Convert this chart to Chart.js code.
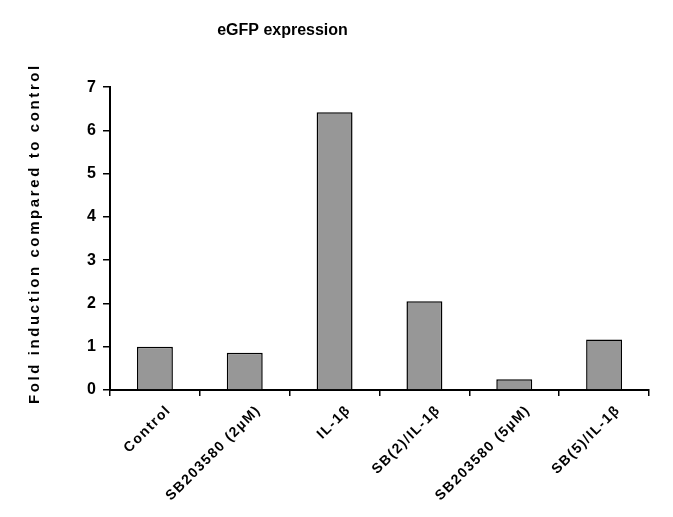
<!DOCTYPE html>
<html>
<head>
<meta charset="utf-8">
<title>eGFP expression</title>
<script src="https://cdn.jsdelivr.net/npm/chart.js@4.4.0/dist/chart.umd.min.js"></script>
<style>
	html, body { margin: 0; padding: 0; background: #fff; }
	#wrap { width: 673px; height: 517px; }
</style>
</head>
<body>
<div id="wrap"><canvas id="canvas" width="673" height="517"></canvas></div>
<script>
'use strict';

var categories = ['Control', 'SB203580 (2\u00b5M)', 'IL-1\u03b2', 'SB(2)/IL-1\u03b2', 'SB203580 (5\u00b5M)', 'SB(5)/IL-1\u03b2'];
var foldInduction = [1.0, 0.86, 6.42, 2.05, 0.25, 1.17];
var yMin = 0;
var yMax = 7;
var yStep = 1;

var FONT = "'Liberation Sans', Arial, Helvetica, sans-serif";

// wrap a draw method so the canvas uses some letter spacing (and a small shift) while it runs
function spaced(obj, name, sp, dx, dy) {
	if (!obj || obj['_sp_' + name]) return;
	var orig = obj[name];
	obj[name] = function() {
		var ctx = this.ctx;
		var prev = ctx.letterSpacing;
		ctx.save();
		if (dx || dy) ctx.translate(dx || 0, dy || 0);
		ctx.letterSpacing = sp;
		var r = orig.apply(this, arguments);
		ctx.restore();
		ctx.letterSpacing = prev;
		return r;
	};
	obj['_sp_' + name] = true;
}

var letterSpacingPlugin = {
	id: 'letterSpacing',
	beforeDraw: function(chart) {
		spaced(chart.scales.y, 'drawTitle', '2.6px', 0, -5);
		spaced(chart.scales.x, 'drawLabels', '1.5px');
		spaced(chart.titleBlock, 'draw', '0px', -42, 0); // title sits left of centre in the original
	}
};

window.onload = function() {
	var ctx = document.getElementById('canvas').getContext('2d');
	window.myBar = new Chart(ctx, {
		type: 'bar',
		data: {
			labels: categories,
			datasets: [{
				label: 'Fold induction',
				data: foldInduction,
				backgroundColor: '#979797',
				borderColor: '#000',
				borderWidth: 1.5,
				barPercentage: 0.4,
				categoryPercentage: 1.0
			}]
		},
		plugins: [letterSpacingPlugin],
		options: {
			responsive: false,
			animation: false,
			layout: { padding: { left: 0, right: 24, top: 0, bottom: 0 } },
			plugins: {
				legend: { display: false },
				tooltip: { enabled: false },
				title: {
					display: true,
					text: 'eGFP expression',
					color: '#000',
					font: { family: FONT, size: 16, weight: 'bold' },
					padding: { top: 21, bottom: 47 }
				}
			},
			scales: {
				x: {
					offset: true,
					grid: {
						offset: true,
						drawOnChartArea: false,
						drawTicks: true,
						tickLength: 6,
						color: '#000',
						lineWidth: 1.5
					},
					border: { display: true, color: '#000', width: 2 },
					ticks: {
						color: '#000',
						font: { family: FONT, size: 14, weight: 'bold' },
						minRotation: 45,
						maxRotation: 45,
						autoSkip: false,
						padding: 6,
						labelOffset: 14
					},
					afterFit: function(scale) { scale.height = 127; }
				},
				y: {
					min: yMin,
					max: yMax,
					grid: {
						drawOnChartArea: false,
						drawTicks: true,
						tickLength: 7,
						color: '#000',
						lineWidth: 1.5
					},
					border: { display: true, color: '#000', width: 2 },
					ticks: {
						stepSize: yStep,
						color: '#000',
						font: { family: FONT, size: 16, weight: 'bold' },
						padding: 7
					},
					title: {
						display: true,
						text: 'Fold induction compared to control',
						color: '#000',
						font: { family: FONT, size: 15, weight: 'bold' },
						padding: { top: 26, bottom: 0 }
					},
					afterFit: function(scale) { scale.width = 110; }
				}
			}
		}
	});
};
</script>
</body>
</html>
